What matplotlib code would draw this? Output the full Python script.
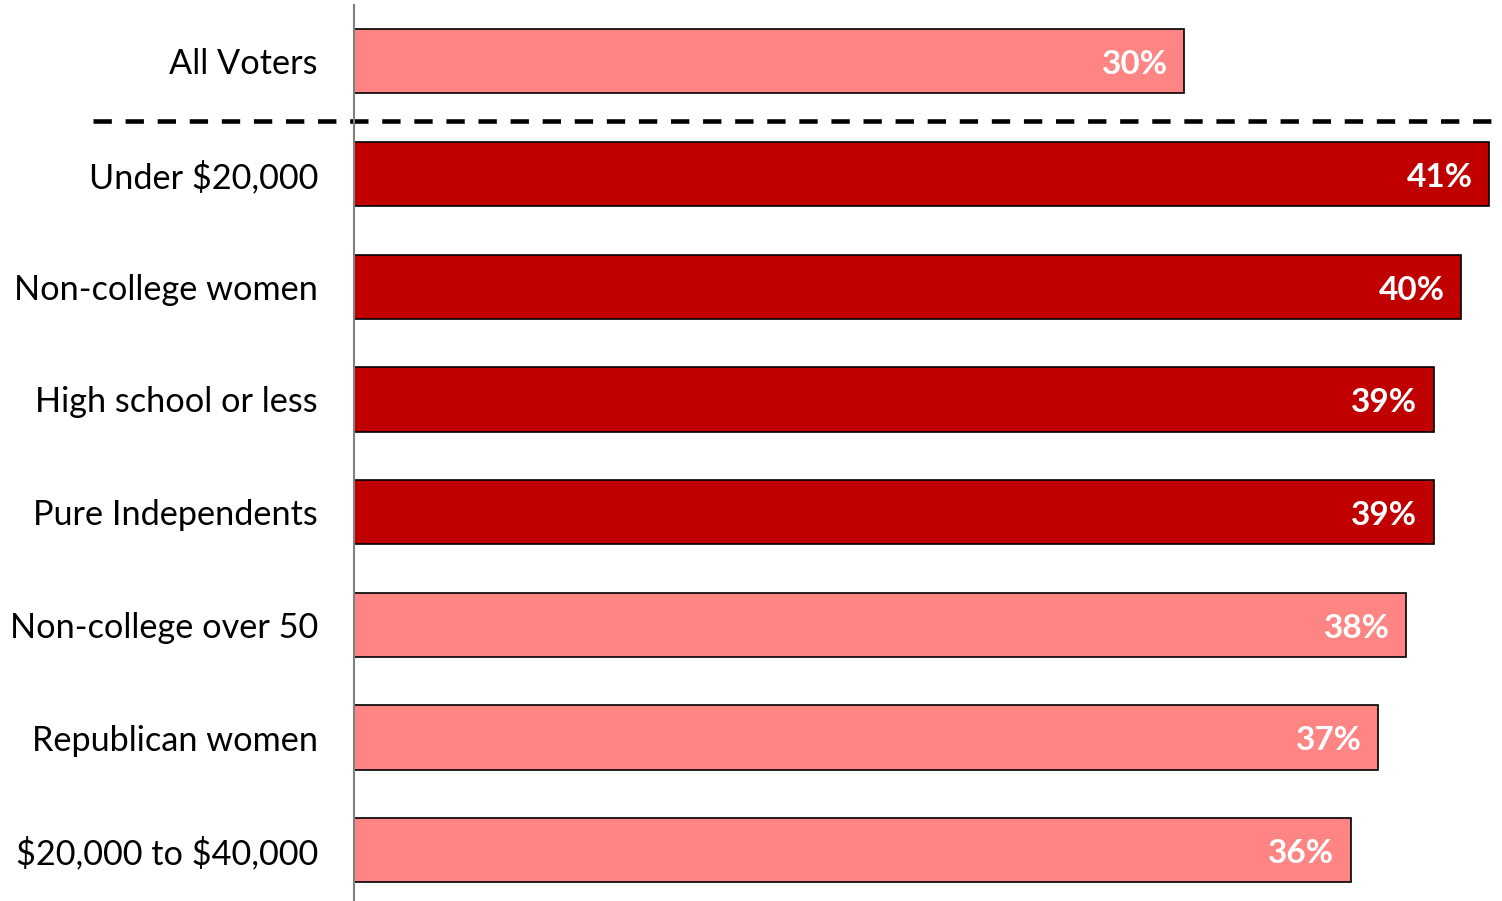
import matplotlib
matplotlib.use('Agg')
import matplotlib.pyplot as plt
from matplotlib.transforms import blended_transform_factory

plt.rcParams['font.family'] = ['Lato', 'DejaVu Sans']
plt.rcParams['text.parse_math'] = False

groups = ['All Voters', 'Under $20,000', 'Non-college women', 'High school or less',
          'Pure Independents', 'Non-college over 50', 'Republican women', '$20,000 to $40,000']
values = [30, 41, 40, 39, 39, 38, 37, 36]
highlight = [False, True, True, True, True, False, False, False]

light = '#FF8585'
dark = '#C00000'
colors = [dark if h else light for h in highlight]

fig = plt.figure(figsize=(15.02, 9.01), dpi=100)
ax = fig.add_axes([354 / 1502, 0, 1 - 354 / 1502, 1 - 5 / 901])

pos = list(range(len(groups)))
ax.barh(pos, values, height=0.57, color=colors, edgecolor='black', linewidth=1.2)

for p, v in zip(pos, values):
    ax.text(v - 0.6, p + 0.03, f'{v}%', ha='right', va='center',
            color='white', fontsize=24, fontweight='bold')

ax.set_xlim(0, 41.47)
ax.set_ylim(7.45, -0.5)
ax.set_yticks(pos)
ax.set_yticklabels(groups, fontsize=24.7)
ax.tick_params(axis='y', length=0, pad=26)
ax.set_xticks([])

for s in ['top', 'right', 'bottom']:
    ax.spines[s].set_visible(False)
ax.spines['left'].set_color('#808080')
ax.spines['left'].set_linewidth(1.5)

# dashed separator under "All Voters"
trans = blended_transform_factory(fig.transFigure, ax.transData)
ax.plot([93 / 1502, 1.0], [0.53, 0.53], transform=trans, color='black',
        linestyle=(0, (4, 3)), linewidth=3.3, clip_on=False)

plt.savefig('out.png', dpi=100)
